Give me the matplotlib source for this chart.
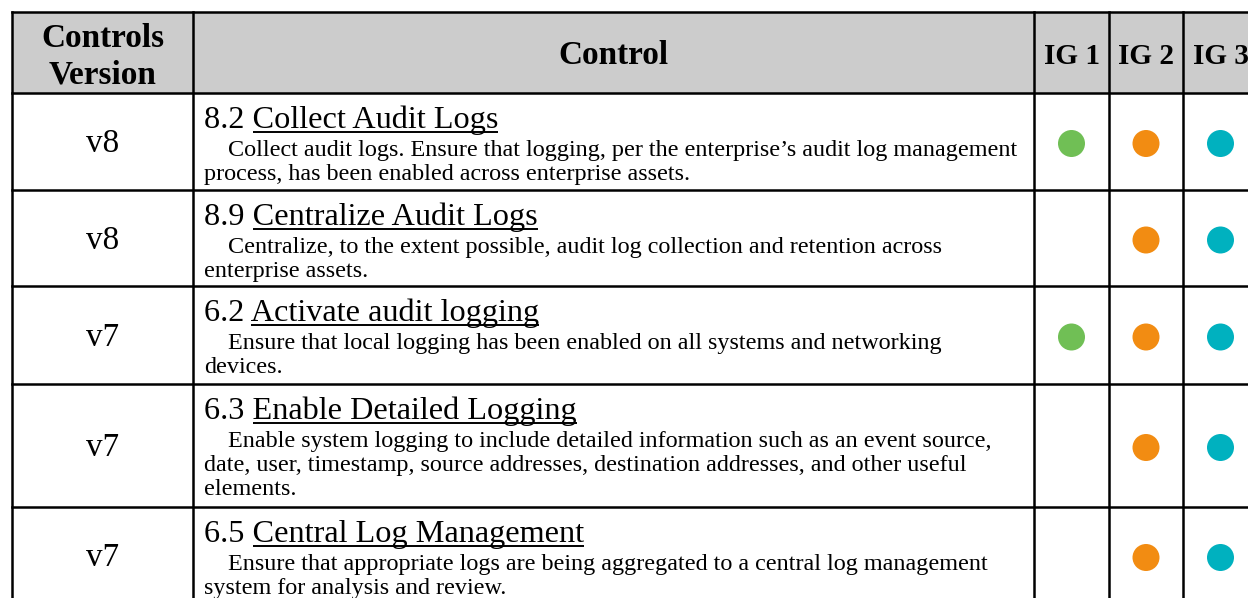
import matplotlib
matplotlib.use("Agg")
import matplotlib.pyplot as plt
from matplotlib.patches import Rectangle, Circle

# ---------------- data ----------------
headers = ["Controls\nVersion", "Control", "IG 1", "IG 2", "IG 3"]
versions = ["v8", "v8", "v7", "v7", "v7"]
ids = ["8.2", "8.9", "6.2", "6.3", "6.5"]
titles = ["Collect Audit Logs", "Centralize Audit Logs", "Activate audit logging",
          "Enable Detailed Logging", "Central Log Management"]
descriptions = [
    ["Collect audit logs. Ensure that logging, per the enterprise\u2019s audit log management",
     "process, has been enabled across enterprise assets."],
    ["Centralize, to the extent possible, audit log collection and retention across",
     "enterprise assets."],
    ["Ensure that local logging has been enabled on all systems and networking",
     "devices."],
    ["Enable system logging to include detailed information such as an event source,",
     "date, user, timestamp, source addresses, destination addresses, and other useful",
     "elements."],
    ["Ensure that appropriate logs are being aggregated to a central log management",
     "system for analysis and review."],
]
ig1 = [True, False, True, False, False]
ig2 = [True, True, True, True, True]
ig3 = [True, True, True, True, True]
ig_colors = ["#70BF55", "#F28C12", "#00B1BF"]

# ---------------- layout ----------------
W, H = 1248, 598
col_edges = [12, 193, 1034, 1109, 1183, 1258]
row_edges = [12, 93, 190, 286, 384, 507, 604]
FONT = "Liberation Serif"

fig = plt.figure(figsize=(W / 100, H / 100), dpi=100)
ax = fig.add_axes([0, 0, 1, 1])
ax.set_xlim(0, W)
ax.set_ylim(H, 0)
ax.axis("off")
renderer = fig.canvas.get_renderer()


def text_width(s, size, **kw):
    t = ax.text(0, 0, s, fontsize=size, family=FONT, **kw)
    w = t.get_window_extent(renderer).width
    t.remove()
    return w


def fit(s, target, **kw):
    return 20 * target / text_width(s, 20, **kw)


desc_size = fit(descriptions[0][0], 789)
title_size = fit(ids[0] + " " + titles[0], 294)
head_size = fit("Controls", 123, weight="bold")
ig_head_size = fit("IG 1", 56, weight="bold")
ver_size = fit(versions[0], 33)

# header background
ax.add_patch(Rectangle((col_edges[0], row_edges[0]), col_edges[-1] - col_edges[0],
                       row_edges[1] - row_edges[0], facecolor="#CCCCCC", edgecolor="none", zorder=0))

# header texts
hc = (row_edges[0] + row_edges[1]) / 2
for j, h in enumerate(headers):
    cx = (col_edges[j] + col_edges[j + 1]) / 2
    lines = h.split("\n")
    size = ig_head_size if j >= 2 else head_size
    if len(lines) == 2:
        ax.text(cx, hc - 5.5, lines[0], ha="center", va="baseline", fontsize=size,
                family=FONT, weight="bold", color="black")
        ax.text(cx, hc + 30.5, lines[1], ha="center", va="baseline", fontsize=size,
                family=FONT, weight="bold", color="black")
    else:
        ax.text(cx, hc + 12, h, ha="center", va="baseline", fontsize=size,
                family=FONT, weight="bold", color="black")

# body rows
x0 = col_edges[1] + 11
indent = 24
for i in range(len(versions)):
    top = row_edges[i + 1]
    bot = row_edges[i + 2]
    rc = (top + bot) / 2
    # version
    ax.text((col_edges[0] + col_edges[1]) / 2, rc + 11, versions[i], ha="center",
            va="baseline", fontsize=ver_size, family=FONT, color="black")
    # title
    full = ids[i] + " " + titles[i]
    ax.text(x0, top + 35, full, ha="left", va="baseline", fontsize=title_size,
            family=FONT, color="black")
    wf = text_width(full, title_size)
    wt = text_width(titles[i], title_size)
    ax.plot([x0 + wf - wt, x0 + wf], [top + 38.5, top + 38.5], color="black",
            lw=1.4, solid_capstyle="butt")
    # description
    for k, line in enumerate(descriptions[i]):
        ax.text(x0 + (indent if k == 0 else 0), top + 63 + 24 * k, line, ha="left",
                va="baseline", fontsize=desc_size, family=FONT, color="black")
    # IG circles
    for j, flags in enumerate([ig1, ig2, ig3]):
        if flags[i]:
            cx = (col_edges[2 + j] + col_edges[3 + j]) / 2
            ax.add_patch(Circle((cx, rc + 2), 13.5, facecolor=ig_colors[j],
                                edgecolor="none", zorder=3))

# grid lines
for y in row_edges:
    ax.plot([col_edges[0], col_edges[-1]], [y, y], color="black", lw=1.8,
            solid_capstyle="projecting", zorder=4)
for x in col_edges:
    ax.plot([x, x], [row_edges[0], row_edges[-1]], color="black", lw=1.8,
            solid_capstyle="projecting", zorder=4)

fig.savefig("out.png", dpi=100)
